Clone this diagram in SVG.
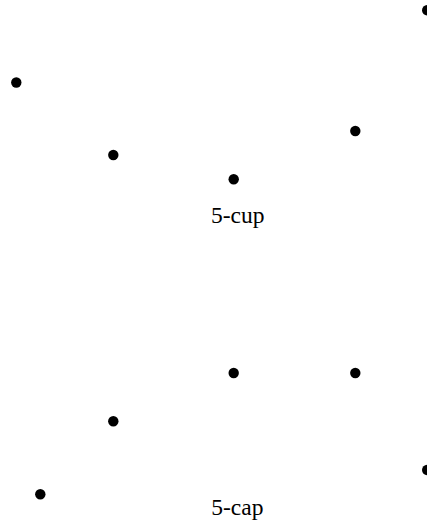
<svg xmlns="http://www.w3.org/2000/svg" width="427" height="523" viewBox="0 0 427 523">
<style>
.pt{fill:#000}
.lbl{font-family:"Liberation Serif","DejaVu Serif",serif;font-size:23.5px;fill:#000;text-anchor:middle}
</style>
<rect width="427" height="523" fill="#fff"/>
<g id="cup">
<g id="cup-p1"><circle class="pt" cx="16.3" cy="82.5" r="5.2"/></g>
<g id="cup-p2"><circle class="pt" cx="113.3" cy="155" r="5.2"/></g>
<g id="cup-p3"><circle class="pt" cx="233.7" cy="179.3" r="5.2"/></g>
<g id="cup-p4"><circle class="pt" cx="355.3" cy="131" r="5.2"/></g>
<g id="cup-p5"><circle class="pt" cx="427.2" cy="10.3" r="5.2"/></g>
<text class="lbl" x="237.7" y="223">5-cup</text>
</g>
<g id="cap">
<g id="cap-p1"><circle class="pt" cx="40.3" cy="494.3" r="5.2"/></g>
<g id="cap-p2"><circle class="pt" cx="113.3" cy="421.3" r="5.2"/></g>
<g id="cap-p3"><circle class="pt" cx="233.7" cy="373" r="5.2"/></g>
<g id="cap-p4"><circle class="pt" cx="355.3" cy="373" r="5.2"/></g>
<g id="cap-p5"><circle class="pt" cx="427.2" cy="470" r="5.2"/></g>
<text class="lbl" x="237.3" y="515">5-cap</text>
</g>
<g id="connectors"/>
</svg>
